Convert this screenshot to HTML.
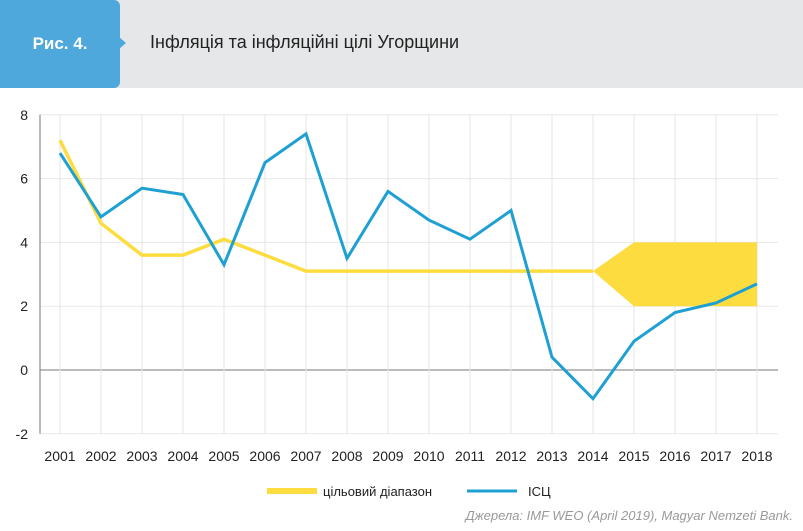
<!DOCTYPE html>
<html><head><meta charset="utf-8"><style>
body{margin:0;width:803px;height:531px;overflow:hidden;background:#fff;font-family:"Liberation Sans",sans-serif}
#hdr{position:absolute;left:0;top:0;width:803px;height:88px;background:#e6e7e8}
#tag{position:absolute;left:0;top:0;width:120px;height:88px;background:#4ea8dc;border-radius:0 6px 6px 0;color:#fff;font-weight:bold;font-size:17px;line-height:88px;text-align:center}
#arr{position:absolute;left:119px;top:37px;width:0;height:0;border-top:6px solid transparent;border-bottom:6px solid transparent;border-left:7px solid #4ea8dc}
#title{position:absolute;left:150px;top:32px;font-size:18px;color:#222}
svg{position:absolute;left:0;top:0}
#src{position:absolute;right:10px;top:508px;font-size:13px;font-style:italic;color:#999}
</style></head><body>
<div id="hdr"></div>
<div id="tag">Рис. 4.</div>
<div id="arr"></div>
<div id="title">Інфляція та інфляційні цілі Угорщини</div>
<svg id="chart" width="803" height="531"></svg>
<div id="src">Джерела: IMF WEO (April 2019), Magyar Nemzeti Bank.</div>
<script>
const years=[2001,2002,2003,2004,2005,2006,2007,2008,2009,2010,2011,2012,2013,2014,2015,2016,2017,2018];
const cpi=[6.8,4.8,5.7,5.5,3.3,6.5,7.4,3.5,5.6,4.7,4.1,5.0,0.4,-0.9,0.9,1.8,2.1,2.7];
const target=[7.2,4.6,3.6,3.6,4.1,3.6,3.1,3.1,3.1,3.1,3.1,3.1,3.1,3.1];
const bandYears=[2014,2015,2016,2017,2018];
const bandLow=[3.1,2,2,2,2];
const bandHigh=[3.1,4,4,4,4];
const yTicks=[8,6,4,2,0,-2];
const NS="http://www.w3.org/2000/svg";
const svg=document.getElementById('chart');
const X=y=>60+(y-2001)*41;
const Y=v=>370-v*31.9;
function mk(t,a){const e=document.createElementNS(NS,t);for(const k in a)e.setAttribute(k,a[k]);svg.appendChild(e);return e;}
yTicks.forEach(t=>{
 const l=mk('line',{x1:40,x2:778,y1:Y(t),y2:Y(t),stroke:t===0?'#777':'#e8e8e8','stroke-width':1});
 
 const tx=mk('text',{x:28,y:Y(t)+5,'text-anchor':'end','font-size':14,fill:'#222'});tx.textContent=t;
 
});
years.forEach(y=>{
 const l=mk('line',{x1:X(y),x2:X(y),y1:Y(8),y2:Y(-2),stroke:'#e4e4e4','stroke-width':1});
 
 const tx=mk('text',{x:X(y),y:461,'text-anchor':'middle','font-size':14,fill:'#222'});tx.textContent=y;
 
});
const ax=mk('line',{x1:40,x2:40,y1:Y(8),y2:Y(-2),stroke:'#777','stroke-width':1});

let bp=bandYears.map((y,i)=>X(y)+','+Y(bandHigh[i])).concat(bandYears.slice().reverse().map((y,i)=>X(y)+','+Y(bandLow[bandLow.length-1-i])));
const band=mk('polygon',{points:bp.join(' '),fill:'#fddc3f'});

const tl=mk('polyline',{points:target.map((v,i)=>X(years[i])+','+Y(v)).join(' '),fill:'none',stroke:'#fddc3f','stroke-width':3.5});

const cl=mk('polyline',{points:cpi.map((v,i)=>X(years[i])+','+Y(v)).join(' '),fill:'none',stroke:'#1fa0d2','stroke-width':3,'stroke-linejoin':'miter'});

const l1=mk('rect',{x:267,y:488,width:50,height:6,fill:'#fddc3f'});

const t1=mk('text',{x:323,y:496,'font-size':13,fill:'#222'});t1.textContent='цільовий діапазон';

const l2=mk('line',{x1:467,x2:517,y1:491,y2:491,stroke:'#1fa0d2','stroke-width':3});

const t2=mk('text',{x:528,y:496,'font-size':13,fill:'#222'});t2.textContent='ІСЦ';

</script>
</body></html>
